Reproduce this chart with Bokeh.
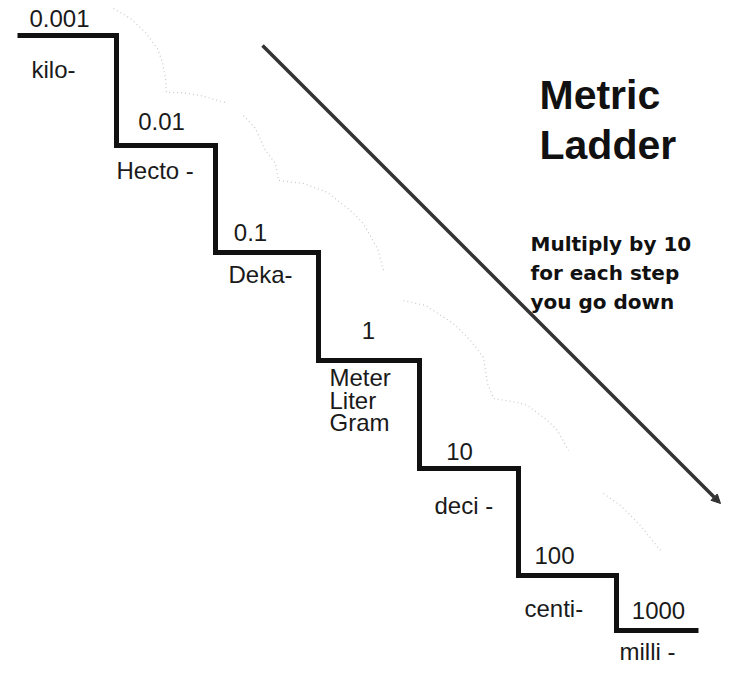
from bokeh.plotting import figure
from bokeh.models import Range1d, Arrow, NormalHead
from bokeh.core.properties import value
from bokeh.embed import file_html
from bokeh.resources import INLINE

# Staircase treads (left x, right x, level y) in picture coordinates
tread_left = [17, 116, 215, 318, 419, 518, 616]
tread_right = [116, 215, 318, 419, 518, 616, 698]
tread_y = [35, 145, 252, 360, 468, 575, 630]

# Conversion factors written above each tread
factor_labels = ["0.001", "0.01", "0.1", "1", "10", "100", "1000"]
factor_x = [59, 161, 250, 368, 459, 554, 658]
factor_y = [18, 121, 232, 330, 451, 555, 610]

# Prefix names written below each tread
prefix_labels = ["kilo-", "Hecto -", "Deka-", "Meter", "Liter", "Gram", "deci -", "centi-", "milli -"]
prefix_x = [31, 116, 228, 329, 329, 329, 434, 524, 619]
prefix_y = [69, 170, 274, 377, 400, 422, 505, 608, 651]

# Faint dotted hop curves
hop_xs = [
    [113, 130, 145, 157, 162, 165, 166, 180, 200, 225],
    [243, 255, 265, 275, 278, 303, 327, 350, 363, 377, 383],
    [403, 425, 453, 470, 483, 487, 493, 517, 527, 547, 557, 568],
    [603, 620, 640, 660],
]
hop_ys = [
    [8, 18, 32, 48, 62, 78, 92, 92, 95, 102],
    [115, 128, 150, 163, 180, 183, 192, 210, 223, 248, 270],
    [300, 305, 323, 340, 357, 383, 398, 402, 405, 420, 430, 450],
    [493, 505, 525, 550],
]

# Big arrow
arrow_start = (262, 45)
arrow_end = (720, 503)

title_lines = ["Metric", "Ladder"]
title_x = [539, 539]
title_y = [94, 144]

note_lines = ["Multiply by 10", "for each step", "you go down"]
note_x = [530, 530, 530]
note_y = [243, 272, 301]

p = figure(width=733, height=667,
           x_range=Range1d(0, 733), y_range=Range1d(667, 0),
           output_backend="svg", toolbar_location=None,
           x_axis_location=None, y_axis_location=None,
           min_border=0)
p.grid.visible = False
p.outline_line_color = None
p.background_fill_color = "white"
p.border_fill_color = "white"

# dotted hop curves
p.multi_line(xs=hop_xs, ys=hop_ys, line_color="#c8c8c8", line_width=1.2, line_dash="1 3")

# staircase
sx, sy = [], []
for l, r, y in zip(tread_left, tread_right, tread_y):
    sx += [l, r]
    sy += [y, y]
p.line(sx, sy, line_color="#111111", line_width=5, line_join="miter")

# arrow
p.add_layout(Arrow(x_start=arrow_start[0], y_start=arrow_start[1],
                   x_end=arrow_end[0], y_end=arrow_end[1],
                   line_color="#333333", line_width=3.5,
                   end=NormalHead(size=9, fill_color="#333333", line_color="#333333")))

p.text(x=factor_x, y=factor_y, text=factor_labels,
       text_font=value("Liberation Sans"), text_font_size="24px",
       text_align="center", text_baseline="middle", text_color="#1a1a1a")

p.text(x=prefix_x, y=prefix_y, text=prefix_labels,
       text_font=value("Liberation Sans"), text_font_size="24px",
       text_align="left", text_baseline="middle", text_color="#1a1a1a")

p.text(x=title_x, y=title_y, text=title_lines,
       text_font=value("Liberation Sans"), text_font_size="41px", text_font_style="bold",
       text_align="left", text_baseline="middle", text_color="#111111")

p.text(x=note_x, y=note_y, text=note_lines,
       text_font=value("DejaVu Sans"), text_font_size="20px", text_font_style="bold",
       text_align="left", text_baseline="middle", text_color="#111111")

open("out.html", "w").write(file_html(p, INLINE))
